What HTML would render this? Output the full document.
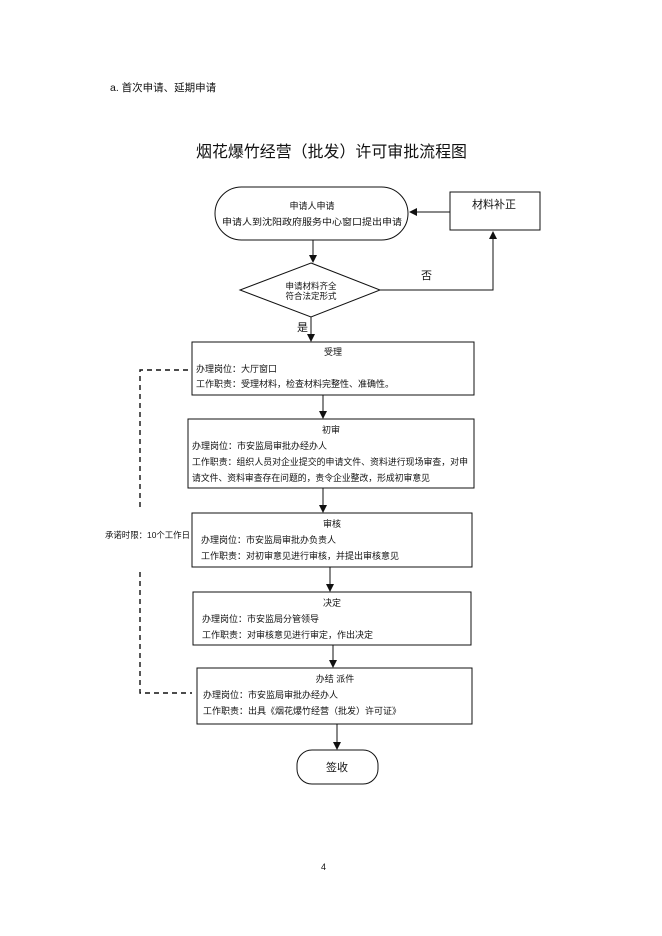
<!DOCTYPE html>
<html><head><meta charset="utf-8">
<style>
html,body{margin:0;padding:0;background:#fff;}
svg{display:block;}
text{font-family:"Liberation Sans","Noto Sans CJK SC",sans-serif;fill:#111;}
</style></head>
<body>
<svg width="662" height="936" viewBox="0 0 662 936" xmlns="http://www.w3.org/2000/svg">
<defs>
<marker id="a" markerWidth="8" markerHeight="8" refX="7" refY="4" orient="auto" markerUnits="userSpaceOnUse">
<path d="M0,0 L8,4 L0,8 z" fill="#111"/>
</marker>
</defs>
<rect width="662" height="936" fill="#fff"/>
<text x="110" y="91" font-size="10.5">a. 首次申请、延期申请</text>
<text x="196" y="157" font-size="16" textLength="271" lengthAdjust="spacingAndGlyphs">烟花爆竹经营（批发）许可审批流程图</text>

<g stroke="#111" stroke-width="1" fill="none">
<rect x="215" y="187" width="193" height="53" rx="26.5" fill="#fff"/>
<rect x="450" y="192" width="90" height="38" fill="#fff"/>
<polygon points="311,263 380,290 311,317 240,290" fill="#fff"/>
<rect x="192" y="342" width="282" height="53" fill="#fff"/>
<rect x="188" y="419" width="286" height="69" fill="#fff"/>
<rect x="192" y="513" width="280" height="54" fill="#fff"/>
<rect x="193" y="592" width="278" height="53" fill="#fff"/>
<rect x="197" y="668" width="275" height="56" fill="#fff"/>
<rect x="297" y="750" width="81" height="34" rx="15" fill="#fff"/>

<line x1="450" y1="212" x2="410" y2="212" marker-end="url(#a)"/>
<polyline points="380,290 493,290 493,232" marker-end="url(#a)"/>
<line x1="313" y1="240" x2="313" y2="262" marker-end="url(#a)"/>
<line x1="311" y1="317" x2="311" y2="341" marker-end="url(#a)"/>
<line x1="323" y1="395" x2="323" y2="418" marker-end="url(#a)"/>
<line x1="323" y1="488" x2="323" y2="512" marker-end="url(#a)"/>
<line x1="330" y1="567" x2="330" y2="591" marker-end="url(#a)"/>
<line x1="333" y1="645" x2="333" y2="667" marker-end="url(#a)"/>
<line x1="337" y1="724" x2="337" y2="749" marker-end="url(#a)"/>

<g stroke-dasharray="5,4" stroke-width="1.4">
<polyline points="188,370 140,370 140,507"/>
<polyline points="140,572 140,693 192,693"/>
</g>
</g>

<g font-size="9">
<text x="312" y="209" text-anchor="middle">申请人申请</text>
<text x="222" y="225" textLength="180" lengthAdjust="spacingAndGlyphs">申请人到沈阳政府服务中心窗口提出申请</text>
<text x="494" y="208" text-anchor="middle" font-size="11">材料补正</text>
<text x="311" y="289" text-anchor="middle" font-size="8.5">申请材料齐全</text>
<text x="311" y="299" text-anchor="middle" font-size="8.5">符合法定形式</text>
<text x="421" y="279" font-size="11">否</text>
<text x="297" y="331" font-size="11">是</text>

<text x="333" y="355" text-anchor="middle">受理</text>
<text x="196" y="372">办理岗位：大厅窗口</text>
<text x="196" y="387">工作职责：受理材料，检查材料完整性、准确性。</text>

<text x="331" y="433" text-anchor="middle">初审</text>
<text x="192" y="449">办理岗位：市安监局审批办经办人</text>
<text x="192" y="465" textLength="276" lengthAdjust="spacingAndGlyphs">工作职责：组织人员对企业提交的申请文件、资料进行现场审查，对申</text>
<text x="192" y="481" textLength="238" lengthAdjust="spacingAndGlyphs">请文件、资料审查存在问题的，责令企业整改，形成初审意见</text>

<text x="332" y="527" text-anchor="middle">审核</text>
<text x="201" y="543">办理岗位：市安监局审批办负责人</text>
<text x="201" y="559">工作职责：对初审意见进行审核，并提出审核意见</text>

<text x="332" y="606" text-anchor="middle">决定</text>
<text x="202" y="622">办理岗位：市安监局分管领导</text>
<text x="202" y="638">工作职责：对审核意见进行审定，作出决定</text>

<text x="335" y="682" text-anchor="middle">办结 派件</text>
<text x="203" y="698">办理岗位：市安监局审批办经办人</text>
<text x="203" y="714">工作职责：出具《烟花爆竹经营（批发）许可证》</text>

<text x="337" y="771" text-anchor="middle" font-size="11">签收</text>
<text x="105" y="538" font-size="8.5" textLength="85" lengthAdjust="spacingAndGlyphs">承诺时限：10个工作日</text>
</g>
<text x="321" y="870" font-size="9" font-family="Liberation Serif,serif">4</text>
</svg>
</body></html>
